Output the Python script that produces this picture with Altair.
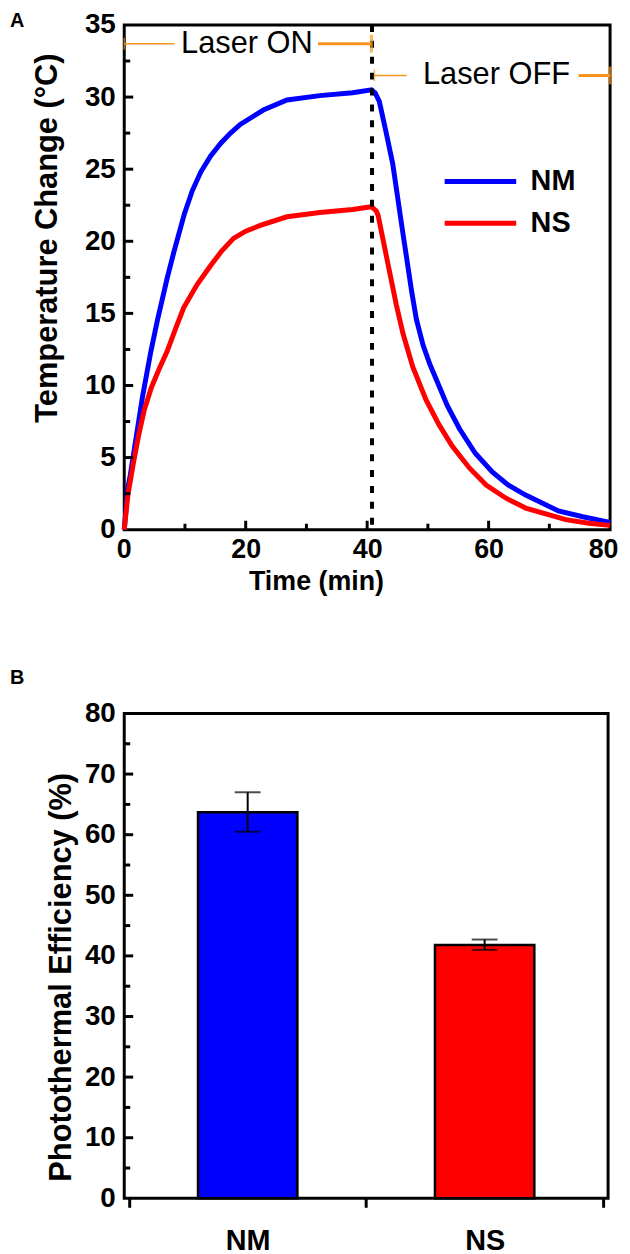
import altair as alt
import pandas as pd

# ---------------- data: panel A (temperature curves) ----------------
nm_time = [0, 0.6, 1, 2, 3, 4.4, 5.5, 7.1, 8.2, 9.9, 11.2, 12.6, 14.2, 15.9, 17.5, 19.1, 22.9, 26.8, 32.2,
           37.6, 40.7, 41.3, 42, 43.1, 44.2, 45.8, 47.3, 48.1, 49.2, 50.3, 51.4, 53.2, 55.2, 57.8, 60.6,
           63.2, 66.1, 71.5, 75.5, 80]
nm_temp = [0, 2.9, 3.8, 6.5, 9.2, 12.4, 14.6, 17.5, 19.3, 21.9, 23.5, 24.8, 25.9, 26.8, 27.5, 28.1, 29.1,
           29.8, 30.1, 30.3, 30.5, 30.3, 29.7, 27.6, 25.4, 20.8, 16.6, 14.6, 12.8, 11.5, 10.4, 8.6, 7.0, 5.3,
           4.0, 3.1, 2.4, 1.3, 0.9, 0.5]
ns_time = [0, 0.6, 1.5, 2.4, 3.3, 4.5, 5.8, 7.1, 8.5, 9.8, 12, 14.2, 16, 18, 20, 22.4, 26.8,
           32.2, 37.6, 40.7, 41.5, 41.8, 43.2, 44.8, 45.9, 47.5, 49.7, 51.8, 54, 56.8, 59.6, 62.8,
           66.1, 72.7, 76.5, 80]
ns_temp = [0, 2.4, 4.6, 6.6, 8.3, 9.9, 11.2, 12.4, 14.0, 15.4, 17.0, 18.3, 19.3, 20.2, 20.7, 21.1, 21.7,
           22.0, 22.2, 22.4, 22.1, 21.8, 18.9, 15.6, 13.6, 11.3, 9.0, 7.3, 5.8, 4.3, 3.1, 2.2,
           1.5, 0.7, 0.45, 0.3]
series_names = ["NM", "NS"]
series_colors = ["#0000FF", "#FF0000"]
laser_off_time = [40.8]

# annotation ("Laser ON" / "Laser OFF")
ann_labels = ["Laser ON", "Laser OFF"]
ann_label_x = [20.2, 61.3]
ann_y = [33.7, 31.5]
ann_thin_x = [0, 41.2]
ann_thin_x2 = [8.3, 46.5]
ann_thick_x = [31.9, 74.8]
ann_thick_x2 = [40.7, 80]

# axis ticks panel A
a_x_labels = [0, 20, 40, 60, 80]
a_x_major = [20, 40, 60]
a_x_minor = [10, 30, 50, 70]
a_y_labels = [0, 5, 10, 15, 20, 25, 30, 35]
a_y_major = [5, 10, 15, 20, 25, 30]
a_y_minor = [2.5, 7.5, 12.5, 17.5, 22.5, 27.5, 32.5]

# ---------------- data: panel B (bars) ----------------
categories = ["NM", "NS"]
efficiency = [63.7, 41.8]
err_low = [60.5, 41.0]
err_high = [67.0, 42.7]
b_y_labels = [0, 10, 20, 30, 40, 50, 60, 70, 80]
b_y_major = [10, 20, 30, 40, 50, 60, 70]
b_y_minor = [5, 15, 25, 35, 45, 55, 65, 75]

FONT = "Liberation Sans"
ORANGE = "#F7941D"

# ================= Panel A =================
WA, HA = 489, 508
rows = []
for t, v in zip(nm_time, nm_temp):
    rows.append({"time": t, "temp": v, "series": "NM"})
for t, v in zip(ns_time, ns_temp):
    rows.append({"time": t, "temp": v, "series": "NS"})
curves = pd.DataFrame(rows)

xA = alt.Scale(domain=[0, 80], nice=False)
yA = alt.Scale(domain=[0, 35], nice=False)
axA_x = alt.Axis(values=a_x_labels, title="Time (min)", tickSize=0, domain=False, grid=False,
                 labelPadding=7, labelFontSize=27, labelFlush=True, labelFlushOffset=8, titleFontSize=27,
                 titleX=193, titleY=52, titleAlign="center", titleBaseline="middle")
axA_y = alt.Axis(values=a_y_labels, title="Temperature Change (°C)", tickSize=0, domain=False,
                 grid=False, labelPadding=9, labelFontSize=28, titleFontSize=31,
                 titleX=-77, titleY=214, titleAngle=270, titleAlign="center", titleBaseline="middle")

def XA(f):
    return alt.X(f, scale=xA, axis=axA_x)

def YA(f):
    return alt.Y(f, scale=yA, axis=axA_y)

lines = alt.Chart(curves).mark_line(strokeWidth=5).encode(
    x=XA("time:Q"),
    y=YA("temp:Q"),
    color=alt.Color("series:N", scale=alt.Scale(domain=series_names, range=series_colors),
                    legend=alt.Legend(orient="none", legendX=344, legendY=143, title=None,
                                      symbolType="M-3,0H3", symbolSize=576, symbolStrokeWidth=5,
                                      labelFont=FONT, labelFontSize=29, labelFontWeight="bold",
                                      labelColor="black", labelOffset=36, rowPadding=12, padding=0)),
    order="time:Q",
    detail="series:N",
)

vline = alt.Chart(pd.DataFrame({"time": laser_off_time})).mark_rule(
    color="black", strokeWidth=4, strokeDash=[7, 9]).encode(x=XA("time:Q"))

ann = pd.DataFrame({"label": ann_labels, "lx": ann_label_x, "y": ann_y,
                    "thin_x": ann_thin_x, "thin_x2": ann_thin_x2,
                    "thick_x": ann_thick_x, "thick_x2": ann_thick_x2})
ann_text = alt.Chart(ann).mark_text(font=FONT, fontSize=31, color="black", baseline="middle").encode(
    x=XA("lx:Q"), y=YA("y:Q"), text="label:N")
ann_thin = alt.Chart(ann).mark_rule(color=ORANGE, strokeWidth=1.5).encode(
    x=XA("thin_x:Q"), x2="thin_x2:Q", y=YA("y:Q"))
ann_thick = alt.Chart(ann).mark_rule(color=ORANGE, strokeWidth=3).encode(
    x=XA("thick_x:Q"), x2="thick_x2:Q", y=YA("y:Q"))
cap_thin = alt.Chart(ann).mark_tick(color=ORANGE, orient="vertical", size=12, thickness=1.5).encode(
    x=XA("thin_x:Q"), y=YA("y:Q"))
cap_thick = alt.Chart(ann).mark_tick(color=ORANGE, orient="vertical", size=18, thickness=3).encode(
    x=XA("thick_x2:Q"), y=YA("y:Q"))

def yticks(vals, length, Y):
    return alt.Chart(pd.DataFrame({"v": vals})).mark_rule(color="black", strokeWidth=3).encode(
        y=Y("v:Q"), x=alt.value(0), x2=alt.value(length))

def xticks(vals, length, X, h):
    return alt.Chart(pd.DataFrame({"v": vals})).mark_rule(color="black", strokeWidth=3).encode(
        x=X("v:Q"), y=alt.value(h), y2=alt.value(h - length))

label_A = alt.Chart(pd.DataFrame({"p": ["A"]})).mark_text(
    font=FONT, fontSize=20, fontWeight="bold", align="left", baseline="top", color="black").encode(
    text="p:N", x=alt.value(-115), y=alt.value(-14))

panelA = alt.layer(
    lines, vline, ann_thin, ann_thick, cap_thin, cap_thick, ann_text,
    yticks(a_y_major, 9, YA), yticks(a_y_minor, 6, YA),
    xticks(a_x_major, 9, XA, HA), xticks(a_x_minor, 6, XA, HA), label_A,
).properties(width=WA, height=HA)

# ================= Panel B =================
WB, HB = 487, 488
bars_df = pd.DataFrame({"cat": categories, "pos": [2 * i + 1 for i in range(len(categories))],
                        "val": efficiency, "lo": err_low, "hi": err_high})
xB = alt.Scale(domain=[0, 2 * len(categories)], nice=False)
yB = alt.Scale(domain=[0, 80], nice=False)
label_expr = " : ".join([f"datum.value == {2*i+1} ? '{c}'" for i, c in enumerate(categories)]) + " : ''"
axB_x = alt.Axis(values=list(range(0, 2 * len(categories) + 1)), labelExpr=label_expr, title=None,
                 tickSize=9, tickWidth=3, tickColor="black",
                 tickOpacity={"condition": {"test": "datum.value % 2 == 1", "value": 0}, "value": 1},
                 domain=False, grid=False, labelPadding=20, labelFontSize=29, labelFlush=False)
axB_y = alt.Axis(values=b_y_labels, title="Photothermal Efficiency (%)", tickSize=0, domain=False,
                 grid=False, labelPadding=9, labelFontSize=28, titleFontSize=31,
                 titleX=-63, titleY=265, titleAngle=270, titleAlign="center", titleBaseline="middle")

def XB(f):
    return alt.X(f, scale=xB, axis=axB_x)

def YB(f):
    return alt.Y(f, scale=yB, axis=axB_y)

bars = alt.Chart(bars_df).mark_bar(size=100, stroke="black", strokeWidth=2.5).encode(
    x=XB("pos:Q"), y=YB("val:Q"),
    color=alt.Color("cat:N", scale=alt.Scale(domain=categories, range=series_colors), legend=None),
)
err_rule = alt.Chart(bars_df).mark_rule(color="black", strokeWidth=2).encode(
    x=XB("pos:Q"), y=YB("lo:Q"), y2="hi:Q")
cap_lo = alt.Chart(bars_df).mark_tick(color="black", orient="horizontal", size=26, thickness=2).encode(
    x=XB("pos:Q"), y=YB("lo:Q"))
cap_hi = alt.Chart(bars_df).mark_tick(color="black", orient="horizontal", size=26, thickness=2).encode(
    x=XB("pos:Q"), y=YB("hi:Q"))

label_B = alt.Chart(pd.DataFrame({"p": ["B"]})).mark_text(
    font=FONT, fontSize=20, fontWeight="bold", align="left", baseline="top", color="black").encode(
    text="p:N", x=alt.value(-115), y=alt.value(-46))

panelB = alt.layer(
    bars, err_rule, cap_lo, cap_hi,
    yticks(b_y_major, 9, YB), yticks(b_y_minor, 6, YB), label_B,
).properties(width=WB, height=HB)

chart = alt.vconcat(panelA, panelB, spacing=70).properties(
    padding={"left": 0, "top": -3, "right": 0, "bottom": 0}
).configure_view(stroke="black", strokeWidth=3).configure_axis(
    labelFont=FONT, titleFont=FONT, labelFontWeight="bold", titleFontWeight="bold",
    labelColor="black", titleColor="black"
)

chart.save("out.html", embed_options={"renderer": "svg", "actions": False})
